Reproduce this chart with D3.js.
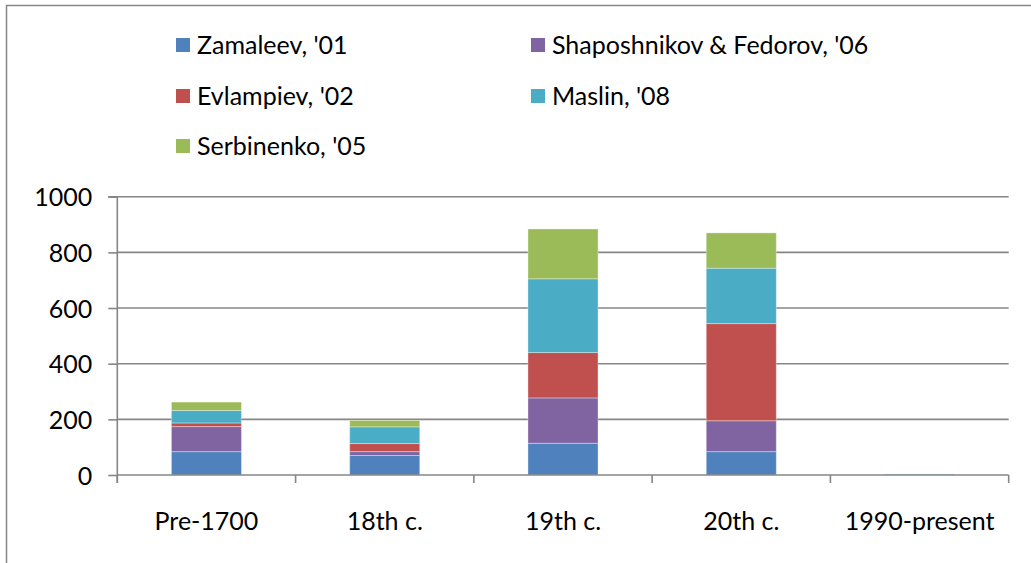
<!DOCTYPE html>
<html>
<head>
<meta charset="utf-8">
<script src="https://cdn.jsdelivr.net/npm/d3@7"></script>
<style>
  html, body { margin: 0; padding: 0; background: #fff; }
  svg { display: block; }
  text { font-family: Lato, "Noto Sans", sans-serif; fill: #000; }
</style>
</head>
<body>
<svg id="chart" width="1031" height="563"></svg>
<script>
const categories = ["Pre-1700", "18th c.", "19th c.", "20th c.", "1990-present"];
const seriesNames = ["Zamaleev, '01", "Shaposhnikov & Fedorov, '06", "Evlampiev, '02", "Maslin, '08", "Serbinenko, '05"];
const zamaleev     = [84, 70, 114, 84, 0];
const shaposhnikov = [90, 14, 163, 111, 0];
const evlampiev    = [13, 29, 163, 349, 0];
const maslin       = [45, 60, 265, 199, 3];
const serbinenko   = [30, 23, 179, 127, 0];
const yTicks = [0, 200, 400, 600, 800, 1000];
const legendOrder = ["Zamaleev, '01", "Shaposhnikov & Fedorov, '06", "Evlampiev, '02", "Maslin, '08", "Serbinenko, '05"];

const colors = {
  "Zamaleev, '01": "#4F81BD",
  "Shaposhnikov & Fedorov, '06": "#8064A2",
  "Evlampiev, '02": "#C0504D",
  "Maslin, '08": "#4BACC6",
  "Serbinenko, '05": "#9BBB59"
};
const valuesBySeries = {
  "Zamaleev, '01": zamaleev,
  "Shaposhnikov & Fedorov, '06": shaposhnikov,
  "Evlampiev, '02": evlampiev,
  "Maslin, '08": maslin,
  "Serbinenko, '05": serbinenko
};

const table = categories.map((c, i) => {
  const row = { category: c };
  seriesNames.forEach(s => row[s] = valuesBySeries[s][i]);
  return row;
});

const svg = d3.select("#chart");
const gridColor = "#868686";
const fontSize = "25px";

// outer chart border
svg.append("rect")
  .attr("x", 6.5).attr("y", 5.5)
  .attr("width", 1060).attr("height", 620)
  .attr("fill", "none").attr("stroke", gridColor).attr("stroke-width", 1.5);

const plotLeft = 117.3, plotRight = 1008.7, plotTop = 196.7, plotBottom = 475;

const x = d3.scaleBand()
  .domain(categories)
  .range([plotLeft, plotRight])
  .paddingInner(0.607)
  .paddingOuter(0.3035);

const y = d3.scaleLinear().domain([0, 1000]).range([plotBottom, plotTop]);

// gridlines
svg.append("g")
  .selectAll("line")
  .data(yTicks.filter(t => t > 0))
  .join("line")
  .attr("x1", plotLeft).attr("x2", plotRight)
  .attr("y1", d => y(d)).attr("y2", d => y(d))
  .attr("stroke", gridColor).attr("stroke-width", 1.6);

// bars
const stack = d3.stack().keys(seriesNames);
const stacked = stack(table);

svg.append("g")
  .selectAll("g")
  .data(stacked)
  .join("g")
  .attr("fill", d => colors[d.key])
  .selectAll("rect")
  .data(d => d)
  .join("rect")
  .attr("x", d => x(d.data.category))
  .attr("width", x.bandwidth())
  .attr("y", d => y(d[1]))
  .attr("height", d => Math.max(0, y(d[0]) - y(d[1])))
  .attr("stroke", "rgba(255,255,255,0.35)")
  .attr("stroke-width", 1);

// y axis
const yAxis = d3.axisLeft(y).tickValues(yTicks).tickFormat(d3.format("d")).tickSize(9).tickPadding(16);
const gy = svg.append("g").attr("transform", `translate(${plotLeft},0)`).call(yAxis);
gy.select(".domain").attr("stroke", gridColor).attr("stroke-width", 1.6)
  .attr("d", `M-9,${plotTop}H0V${plotBottom + 8}`);
gy.selectAll(".tick line").attr("stroke", gridColor).attr("stroke-width", 1.6);
gy.selectAll(".tick text").style("font-size", fontSize).attr("dy", "0.36em");

// x axis
const xAxis = d3.axisBottom(x).tickSize(0).tickPadding(37);
const gx = svg.append("g").attr("transform", `translate(0,${plotBottom})`).call(xAxis);
gx.select(".domain").attr("stroke", gridColor).attr("stroke-width", 1.6)
  .attr("d", `M${plotLeft},0H${plotRight}`);
gx.selectAll(".tick text").style("font-size", fontSize);
// category boundary ticks
const step = x.step();
gx.append("g")
  .selectAll("line")
  .data(d3.range(categories.length + 1))
  .join("line")
  .attr("x1", i => plotLeft + i * step).attr("x2", i => plotLeft + i * step)
  .attr("y1", 0).attr("y2", 8)
  .attr("stroke", gridColor).attr("stroke-width", 1.6);

// legend
const legendCols = [176, 531];
const legendRows = [45, 96, 146];
const legend = svg.append("g");
legendOrder.forEach((name, i) => {
  const col = i % 2, row = Math.floor(i / 2);
  const g = legend.append("g").attr("transform", `translate(${legendCols[col]},${legendRows[row]})`);
  g.append("rect").attr("x", 0).attr("y", -7).attr("width", 14).attr("height", 14).attr("fill", colors[name]);
  g.append("text").attr("x", 21).attr("y", 0).attr("dy", "0.36em").style("font-size", fontSize).text(name);
});
</script>
</body>
</html>
